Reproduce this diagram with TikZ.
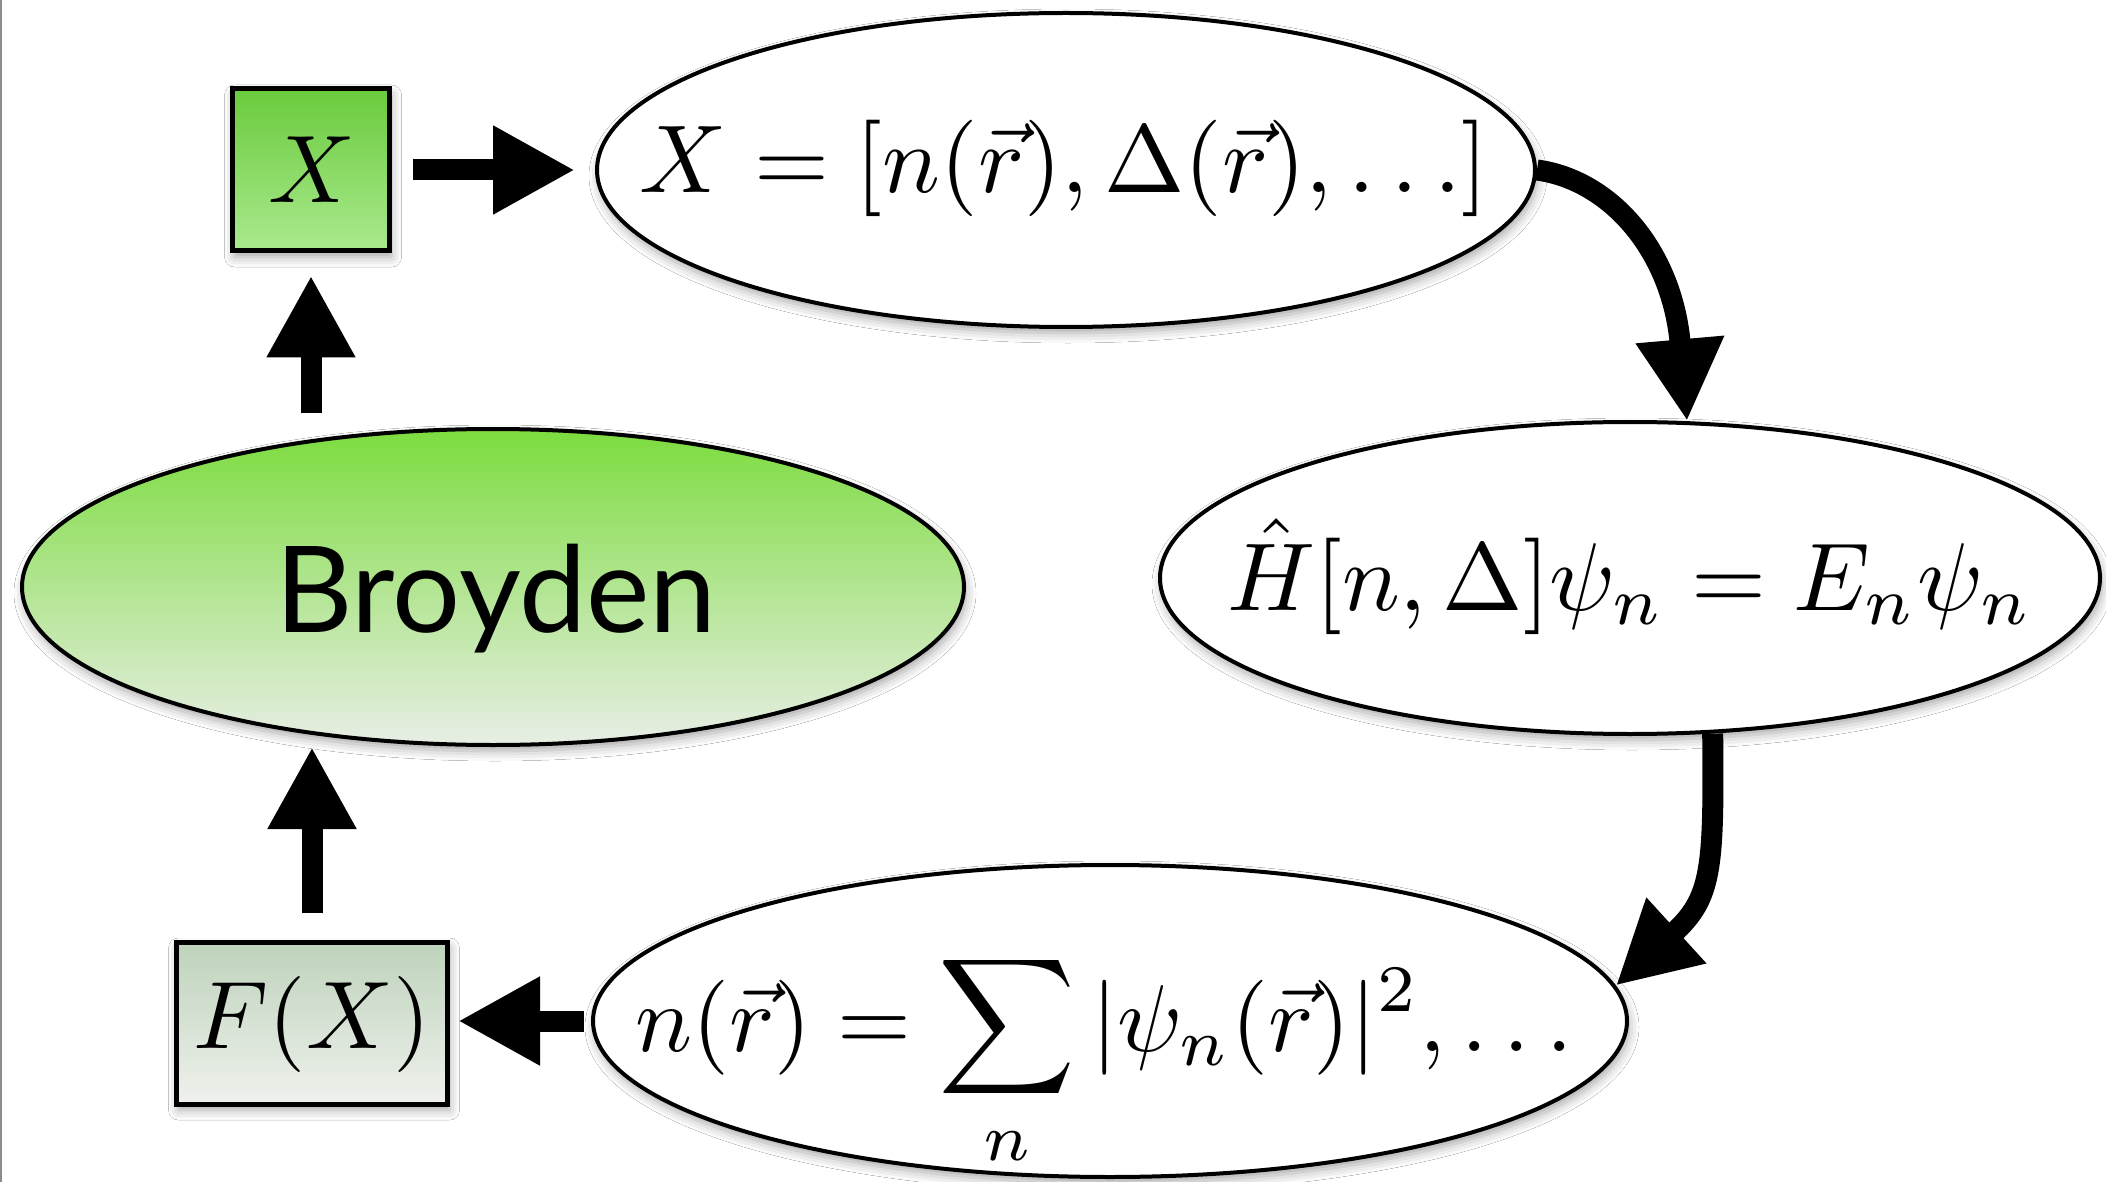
\documentclass[tikz,border=0pt]{standalone}
\usepackage{amsmath}
\usepackage{graphicx}
\usepackage{fontspec}
\newfontfamily\broyfont{Lato}
\usetikzlibrary{shapes.geometric,arrows.meta,shadows.blur}
\definecolor{xtop}{RGB}{106,203,60}
\definecolor{xbot}{RGB}{170,233,142}
\definecolor{btop}{RGB}{124,220,62}
\definecolor{bbot}{RGB}{232,238,229}
\definecolor{ftop}{RGB}{190,211,187}
\definecolor{fbot}{RGB}{239,241,237}
\newcommand{\bigmath}[2]{\scalebox{#1}{$\displaystyle #2$}}
\begin{document}
\begin{tikzpicture}[x=0.5pt,y=-0.5pt,
  softshadow/.style={blur shadow={shadow xshift=1pt,shadow yshift=-3pt,shadow blur radius=5pt,shadow opacity=35}},
  ell/.style={ellipse,draw=black,line width=2pt,fill=white,inner sep=0pt,softshadow},
  box/.style={rectangle,draw=black,line width=2.5pt,inner sep=0pt,softshadow},
  fat/.style={line width=10.5pt,-{Triangle[length=41pt,width=41.5pt]}},
  eq/.style={inner sep=0pt,anchor=base},
  edgeline/.style={draw=black!45,line width=1pt}]
\useasboundingbox (0,0) rectangle (2106,1182);
\fill[white] (0,0) rectangle (2106,1182);
\draw[edgeline] (1,0) -- (1,1182);
% shapes
\node[ell,minimum width=469pt,minimum height=157pt] (e1) at (1066,170) {};
\node[ell,minimum width=470pt,minimum height=156pt] (e2) at (1630,578) {};
\node[ell,minimum width=517pt,minimum height=156pt] (e3) at (1110,1021) {};
\node[ell,top color=btop,bottom color=bbot,minimum width=471pt,minimum height=158pt] (br) at (493,587) {};
\node[box,top color=xtop,bottom color=xbot,minimum width=78.5pt,minimum height=81pt] (xb) at (311,170) {};
\node[box,top color=ftop,bottom color=fbot,minimum width=135.5pt,minimum height=81pt] (fx) at (312,1023) {};
% texts
\node[eq] (t1) at (1064,193) {\bigmath{4.82}{X=[n(\vec r),\Delta(\vec r),\ldots]}};
\node[eq] (t2) at (1630,610) {\bigmath{4.82}{\hat H[n,\Delta]\psi_n=E_n\psi_n}};
\node[eq] (t3) at (1104,1051) {\bigmath{4.75}{n(\vec r)=\sum_n|\psi_n(\vec r)|^2,\ldots}};
\node[eq] (tx) at (312,203) {\bigmath{4.8}{X}};
\node[eq] (tf) at (312,1048) {\bigmath{4.8}{F(X)}};
\node[font=\broyfont\fontsize{60}{66}\selectfont,inner sep=0pt,anchor=base] (tb) at (496,632) {Broyden};
% connectors
\draw[fat,shorten <=10.5pt,shorten >=10pt] (xb.east) -- (xb.east -| e1.west);
\draw[fat] (e1.east) .. controls (1610,180) and (1672,250) .. (e2.70);
\draw[fat] (e2.-62) .. controls (1714,870) and (1712,898) .. (e3.4);
\draw[fat,shorten <=3.5pt,shorten >=4pt] (e3.west) -- (fx.east |- e3.west);
\draw[fat,shorten <=13.5pt] (fx.north) -- (fx.north |- br.south);
\draw[fat,shorten <=7pt,shorten >=11pt] (xb.south |- br.north) -- (xb.south);
\end{tikzpicture}
\end{document}
